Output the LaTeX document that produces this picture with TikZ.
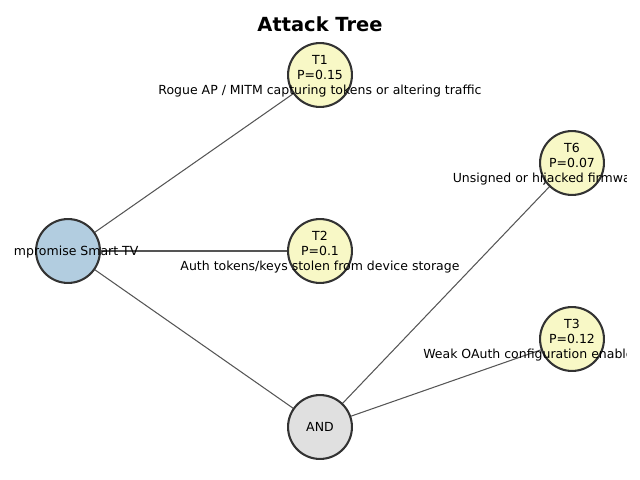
\documentclass[tikz,border=0pt]{standalone}
\usepackage{fontspec}
\setmainfont{DejaVu Sans}
\definecolor{leafc}{HTML}{F8F8C6}
\definecolor{rootc}{HTML}{B2CDE0}
\definecolor{andc}{HTML}{E0E0E0}
\definecolor{edgec}{HTML}{333333}
\definecolor{linkc}{HTML}{555555}
\pgfdeclarelayer{bg}
\pgfsetlayers{bg,main}
\tikzset{
  treenode/.style={circle, draw=edgec, line width=1.5pt, minimum size=46pt, inner sep=0pt, outer sep=0pt},
  leaf/.style={treenode, fill=leafc},
  rootnode/.style={treenode, fill=rootc},
  andnode/.style={treenode, fill=andc},
  link/.style={draw=linkc, line width=0.75pt},
  lbl/.style={align=center, inner sep=0pt, font=\fontsize{9}{10.8}\selectfont, text=black},
}
\begin{document}
\begin{tikzpicture}[x=0.72pt, y=-0.72pt]
\useasboundingbox (0,0) rectangle (640,480);
\node[font=\fontsize{14}{16}\selectfont\bfseries] (title) at (320,24) {Attack Tree};
\node[rootnode] (root) at (68,251) {};
\node[leaf] (t1) at (320,75) {};
\node[leaf] (t2) at (320,251) {};
\node[andnode] (and) at (320,427) {};
\node[leaf] (t6) at (572,163) {};
\node[leaf] (t3) at (572,339) {};
\begin{pgfonlayer}{bg}
\fill[white] (0,0) rectangle (640,480);
\draw[link] (root) -- (t1);
\draw[link] (root) -- (t2);
\draw[link] (root) -- (and);
\draw[link] (and) -- (t6);
\draw[link] (and) -- (t3);
\end{pgfonlayer}
\begin{scope}
\clip (14,36) rectangle (626,470);
\node[lbl] (l0) at ([yshift=-0.5]root.center) {Compromise Smart TV};
\node[lbl] (l1) at ([yshift=-0.9]t1.center) {T1\\P=0.15\\Rogue AP / MITM capturing tokens or altering traffic};
\node[lbl] (l2) at ([yshift=-0.9]t2.center) {T2\\P=0.1\\Auth tokens/keys stolen from device storage};
\node[lbl] (l6) at ([yshift=-0.9]t6.center) {T6\\P=0.07\\Unsigned or hijacked firmware update};
\node[lbl] (l3) at ([yshift=-0.9]t3.center) {T3\\P=0.12\\Weak OAuth configuration enables token abuse};
\node[lbl] (la) at (and.center) {AND};
\end{scope}
\end{tikzpicture}
\end{document}
